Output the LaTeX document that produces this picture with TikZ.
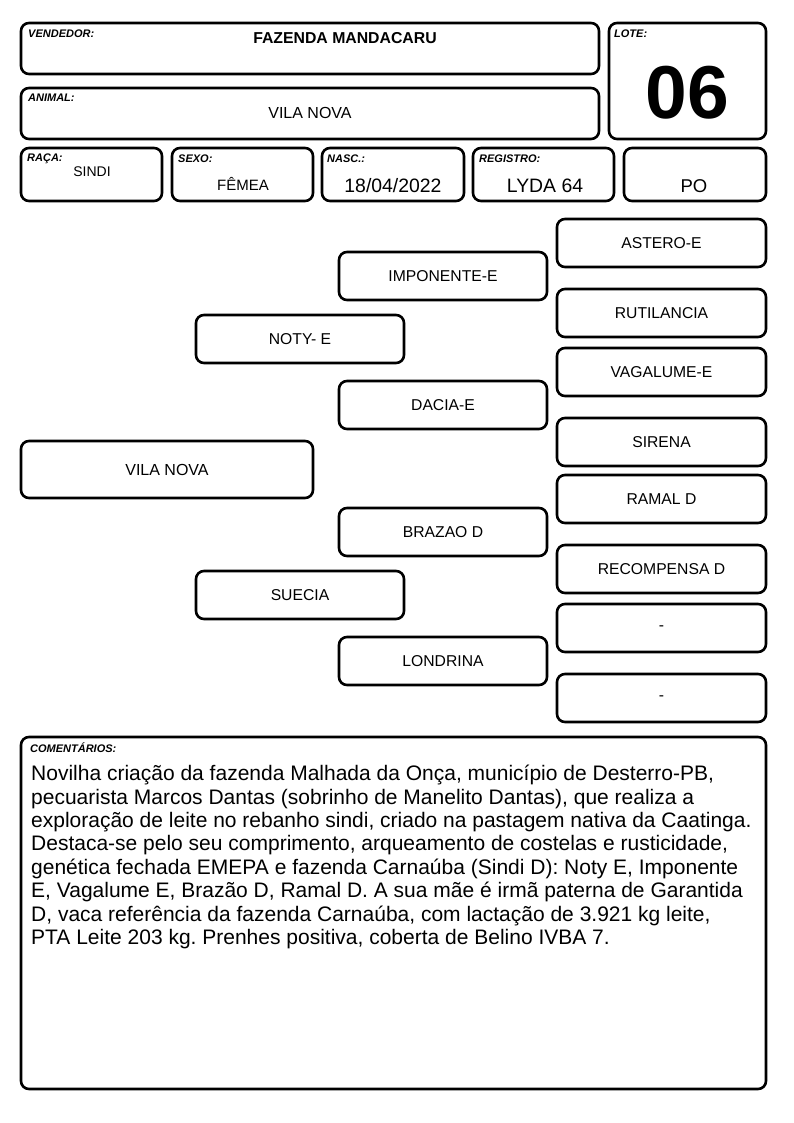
\documentclass[tikz,border=0pt]{standalone}
\usepackage{fontspec}
\setmainfont{Liberation Sans}
\frenchspacing
\begin{document}
\begin{tikzpicture}[x=1pt,y=-1pt,
  box/.style={draw=black, line width=2.6pt, rounded corners=8pt, inner sep=0pt, fill=white},
  lbl/.style={anchor=north west, inner sep=0pt, font=\fontsize{11}{13}\selectfont\bfseries\itshape},
  val/.style={inner sep=0pt, font=\fontsize{16}{19}\selectfont},
  ped/.style={inner sep=0pt, font=\fontsize{15.7}{18}\selectfont},
  gA/.style={box, minimum width=208pt, minimum height=48pt},
  gC/.style={box, minimum width=209pt, minimum height=48pt}]
\useasboundingbox (0,0) rectangle (794,1123);
\fill[white] (0,0) rectangle (794,1123);
% header boxes
\node[box, minimum width=578pt, minimum height=51pt] (vend) at (310,48.5) {};
\node[box, minimum width=578pt, minimum height=51pt] (animal) at (310,113.5) {};
\node[box, minimum width=157pt, minimum height=116pt] (lote) at (687.5,81) {};
\node[box, minimum width=141pt, minimum height=53pt] (raca) at (91.5,174.5) {};
\node[box, minimum width=141pt, minimum height=53pt] (sexo) at (242.5,174.5) {};
\node[box, minimum width=142pt, minimum height=53pt] (nasc) at (393,174.5) {};
\node[box, minimum width=141pt, minimum height=53pt] (reg) at (543.5,174.5) {};
\node[box, minimum width=142pt, minimum height=53pt] (po) at (695,174.5) {};
% labels
\node[lbl] (lvend) at (28,30) {VENDEDOR:};
\node[lbl] (lanimal) at (28,94) {ANIMAL:};
\node[lbl] (llote) at (614,30) {LOTE:};
\node[lbl] (lraca) at (27,154) {RAÇA:};
\node[lbl] (lsexo) at (178,155) {SEXO:};
\node[lbl] (lnasc) at (327,155) {NASC.:};
\node[lbl] (lreg) at (479,155) {REGISTRO:};
% values
\node[val, font=\fontsize{15.8}{18}\selectfont\bfseries] (tvend) at (345,38) {FAZENDA MANDACARU};
\node[val] (tanimal) at (310,113) {VILA NOVA};
\node[inner sep=0pt, font=\fontsize{75}{82}\selectfont\bfseries] (tlote) at (687.5,93) {06};
\node[val, font=\fontsize{14}{17}\selectfont] (traca) at (92,172) {SINDI};
\node[val, font=\fontsize{15}{18}\selectfont] (tsexo) at (243,184) {FÊMEA};
\node[val, font=\fontsize{19.4}{22}\selectfont] (tnasc) at (393,186) {18/04/2022};
\node[val, font=\fontsize{19.4}{22}\selectfont] (treg) at (545,186) {LYDA 64};
\node[val, font=\fontsize{18.5}{21}\selectfont] (tpo) at (694,186) {PO};
% pedigree
\node[box, minimum width=292pt, minimum height=57pt, ped, font=\fontsize{16}{19}\selectfont] (p0) at (167,469.5) {VILA NOVA};
\node[gA, ped] (p1) at (300,339) {NOTY- E};
\node[gA, ped] (p2) at (300,595) {SUECIA};
\node[gA, ped] (p3) at (443,276) {IMPONENTE-E};
\node[gA, ped] (p4) at (443,405) {DACIA-E};
\node[gA, ped] (p5) at (443,532) {BRAZAO D};
\node[gA, ped] (p6) at (443,661) {LONDRINA};
\node[gC, ped] (p7) at (661.5,243) {ASTERO-E};
\node[gC, ped] (p8) at (661.5,313) {RUTILANCIA};
\node[gC, ped] (p9) at (661.5,372) {VAGALUME-E};
\node[gC, ped] (p10) at (661.5,442) {SIRENA};
\node[gC, ped] (p11) at (661.5,499) {RAMAL D};
\node[gC, ped] (p12) at (661.5,569) {RECOMPENSA D};
\node[gC, ped] (p13) at (661.5,628) {-};
\node[gC, ped] (p14) at (661.5,698) {-};
% comments
\node[box, minimum width=745pt, minimum height=352pt] (com) at (393.5,913) {};
\node[lbl] (lcom) at (30,743) {COMENTÁRIOS:};
\node[anchor=north west, inner sep=0pt, align=left, font=\fontsize{21}{23.4}\selectfont] (tcom) at (31,765) {Novilha criação da fazenda Malhada da Onça, município de Desterro-PB,\\
pecuarista Marcos Dantas (sobrinho de Manelito Dantas), que realiza a\\
exploração de leite no rebanho sindi, criado na pastagem nativa da Caatinga.\\
Destaca-se pelo seu comprimento, arqueamento de costelas e rusticidade,\\
genética fechada EMEPA e fazenda Carnaúba (Sindi D): Noty E, Imponente\\
E, Vagalume E, Brazão D, Ramal D. A sua mãe é irmã paterna de Garantida\\
D, vaca referência da fazenda Carnaúba, com lactação de 3.921 kg leite,\\
PTA Leite 203 kg. Prenhes positiva, coberta de Belino IVBA 7.};
\end{tikzpicture}
\end{document}
